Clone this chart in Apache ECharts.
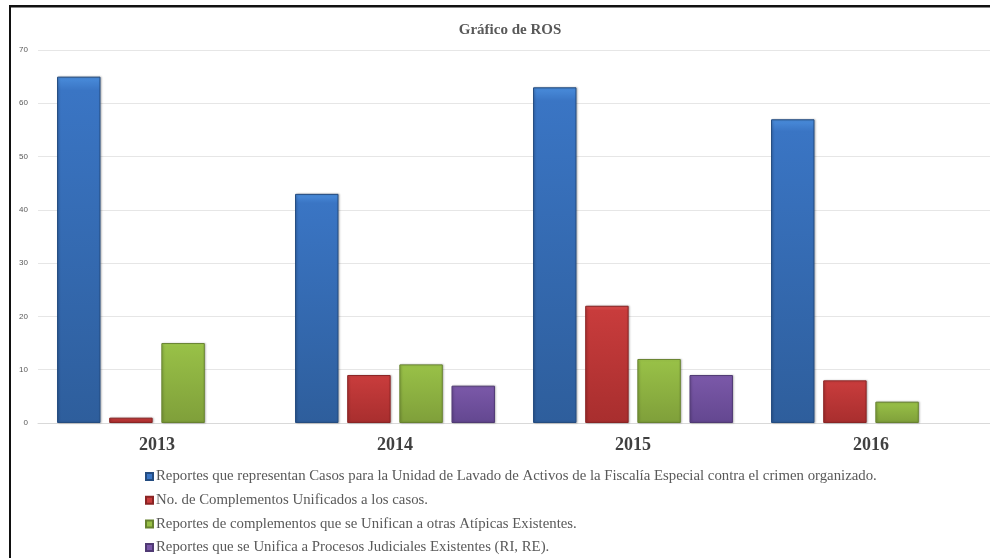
<!DOCTYPE html>
<html>
<head>
<meta charset="utf-8">
<script src="https://cdn.jsdelivr.net/npm/echarts@6/dist/echarts.min.js"></script>
<style>html,body{margin:0;padding:0;background:#fff;}#c{width:990px;height:558px;}</style>
</head>
<body>
<div id="c"></div>
<script>
var categories = ['2013', '2014', '2015', '2016'];
var seriesNames = [
  'Reportes que representan Casos para la Unidad de Lavado de Activos de la Fiscalía Especial contra el crimen organizado.',
  'No. de Complementos Unificados a los casos.',
  'Reportes de complementos que se Unifican a otras Atípicas Existentes.',
  'Reportes que se Unifica a Procesos Judiciales Existentes (RI, RE).'
];
var casos = [65, 43, 63, 57];
var complementos = [1, 9, 22, 8];
var atipicas = [15, 11, 12, 4];
var judiciales = [null, 7, 9, null];
var yTicks = [0, 10, 20, 30, 40, 50, 60, 70];

var palette = [
  ['#4a8ddc', '#3a75c4', '#2e5e9c', '#244c80'],
  ['#e05050', '#c83c3c', '#a82e2e', '#8a2424'],
  ['#addb55', '#98c047', '#7f9f3a', '#67822f'],
  ['#9070c0', '#7a58a8', '#634790', '#503a74']
];
function grad(p) {
  return {
    type: 'linear', x: 0, y: 0, x2: 0, y2: 1,
    colorStops: [
      {offset: 0, color: p[0]},
      {offset: 0.04, color: p[1]},
      {offset: 1, color: p[2]}
    ]
  };
}
var dataSets = [casos, complementos, atipicas, judiciales];
var series = dataSets.map(function (d, i) {
  return {
    name: seriesNames[i],
    type: 'bar',
    data: d,
    barGap: '20%',
    barCategoryGap: '16%',
    itemStyle: {
      color: grad(palette[i]),
      borderColor: palette[i][3],
      borderWidth: 1,
      shadowColor: 'rgba(0,0,0,0.25)',
      shadowBlur: 2,
      shadowOffsetX: 1,
      shadowOffsetY: 0
    },
    emphasis: {disabled: true}
  };
});

var legends = seriesNames.map(function (n, i) {
  return {
    orient: 'horizontal',
    left: 140, top: 464 + i * 23.7,
    itemWidth: 7, itemHeight: 7, itemGap: 0,
    icon: 'rect',
    selectedMode: false,
    textStyle: {fontFamily: 'Liberation Serif', fontSize: 14.8, color: '#595959', padding: [0, 0, 0, -2]},
    data: [{name: n, itemStyle: {color: palette[i][1]}}]
  };
});

var chart = echarts.init(document.getElementById('c'));
chart.setOption({
  animation: false,
  backgroundColor: '#fff',
  title: {
    text: 'Gráfico de ROS',
    left: 505, top: 18, textAlign: 'center',
    textStyle: {fontFamily: 'Liberation Serif', fontSize: 15, fontWeight: 'bold', color: '#595959'}
  },
  legend: legends,
  grid: {left: 38, right: 0, top: 50, bottom: 135, containLabel: false},
  xAxis: {
    type: 'category',
    data: categories,
    axisLine: {show: true, lineStyle: {color: '#d9d9d9'}},
    axisTick: {show: false},
    axisLabel: {fontFamily: 'Liberation Serif', fontSize: 18, fontWeight: 'bold', color: '#404040', margin: 13}
  },
  yAxis: {
    type: 'value',
    min: 0, max: 70, interval: 10,
    axisLine: {show: false},
    axisTick: {show: false},
    axisLabel: {fontFamily: 'Liberation Sans', fontSize: 8, color: '#595959', margin: 10,
      formatter: function (v) { return yTicks.indexOf(v) >= 0 ? String(v) : ''; }},
    splitLine: {lineStyle: {color: '#e6e6e6', width: 1}}
  },
  graphic: [
    {type: 'rect', shape: {x: 9, y: 5, width: 990, height: 2}, style: {fill: '#111'}, z: 100},
    {type: 'rect', shape: {x: 9, y: 5, width: 2, height: 560}, style: {fill: '#111'}, z: 100},
    {type: 'rect', shape: {x: 11, y: 7, width: 990, height: 1}, style: {fill: '#888'}, z: 100}
  ],
  series: series
});
</script>
</body>
</html>
